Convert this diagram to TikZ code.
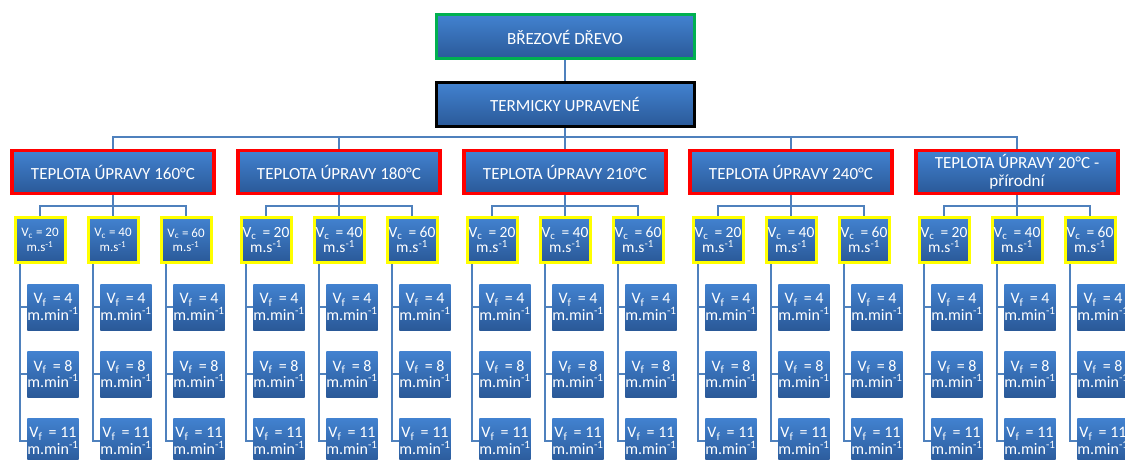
\documentclass[tikz,border=0pt]{standalone}
\usepackage{fontspec}
\setmainfont{Carlito}
\usetikzlibrary{calc}
\definecolor{boxtop}{RGB}{66,130,208}
\definecolor{boxbot}{RGB}{42,89,152}
\definecolor{linkc}{RGB}{79,129,189}
\definecolor{ggreen}{RGB}{0,176,80}
\definecolor{yel}{RGB}{255,255,0}
\definecolor{redb}{RGB}{255,0,0}
\tikzset{
  basebox/.style={rectangle, top color=boxtop, bottom color=boxbot, text=white, align=center, inner sep=0pt},
  rootbox/.style={basebox, draw=ggreen, line width=3pt, minimum width=258pt, minimum height=44pt, font=\fontsize{17}{20}\selectfont},
  blackbox/.style={basebox, draw=black, line width=3pt, minimum width=258pt, minimum height=44pt, font=\fontsize{17}{20}\selectfont},
  tempbox/.style={basebox, draw=redb, line width=3.5pt, minimum width=202pt, minimum height=43pt, font=\fontsize{17}{18.5}\selectfont},
  vcbox/.style={basebox, draw=yel, line width=3pt, minimum width=50pt, minimum height=45pt, font=\fontsize{15.5}{15.5}\selectfont},
  vfbox/.style={basebox, minimum width=50pt, minimum height=46pt, font=\fontsize{16}{16.5}\selectfont},
  link/.style={draw=linkc, line width=1.5pt},
}
\begin{document}
\begin{tikzpicture}[x=1pt,y=-1pt]
\useasboundingbox (0,0) rectangle (1125,460);
\clip (0,0) rectangle (1125,460);
\coordinate (bus) at (0,137);
\coordinate (subbus) at (0,206);
\node[rootbox] (root) at (565,37) {BŘEZOVÉ DŘEVO};
\node[blackbox] (term) at (565,104.5) {TERMICKY UPRAVENÉ};
\draw[link] (root) -- (term);
\foreach \k/\lab in {0/{TEPLOTA ÚPRAVY 160°C},1/{TEPLOTA ÚPRAVY 180°C},2/{TEPLOTA ÚPRAVY 210°C},3/{TEPLOTA ÚPRAVY 240°C},4/{TEPLOTA ÚPRAVY 20°C -\\přírodní}}{
  \pgfmathsetmacro{\cx}{113+226*\k}
  \node[tempbox] (g\k) at (\cx,172) {\lab};
  \draw[link] (term.south) -- (term.south |- bus) -| (g\k.north);
  \foreach \j/\v in {0/20,1/40,2/60}{
    \pgfmathsetmacro{\yx}{\cx-73+73*\j}
    \ifnum\k=0
      \node[vcbox,font=\fontsize{13}{14.5}\selectfont] (y\k\j) at (\yx,240) {V\textsubscript{c} = \v\\m.s\textsuperscript{-1}};
    \else
      \node[vcbox] (y\k\j) at (\yx,240) {V\textsubscript{c}\, = \v\\m.s\textsuperscript{-1}};
    \fi
    \draw[link] (g\k.south) -- (g\k.south |- subbus) -| (y\k\j.north);
    \foreach \m/\f/\ly in {0/4/307,1/8/374,2/11/441}{
      \node[vfbox] (l\k\j\m) at (\yx+13,\ly) {V\textsubscript{f} \,= \f\\m.min\textsuperscript{-1}};
      \draw[link] ([xshift=-20pt]y\k\j.south) |- (l\k\j\m.west);
    }
  }
}
\end{tikzpicture}
\end{document}
